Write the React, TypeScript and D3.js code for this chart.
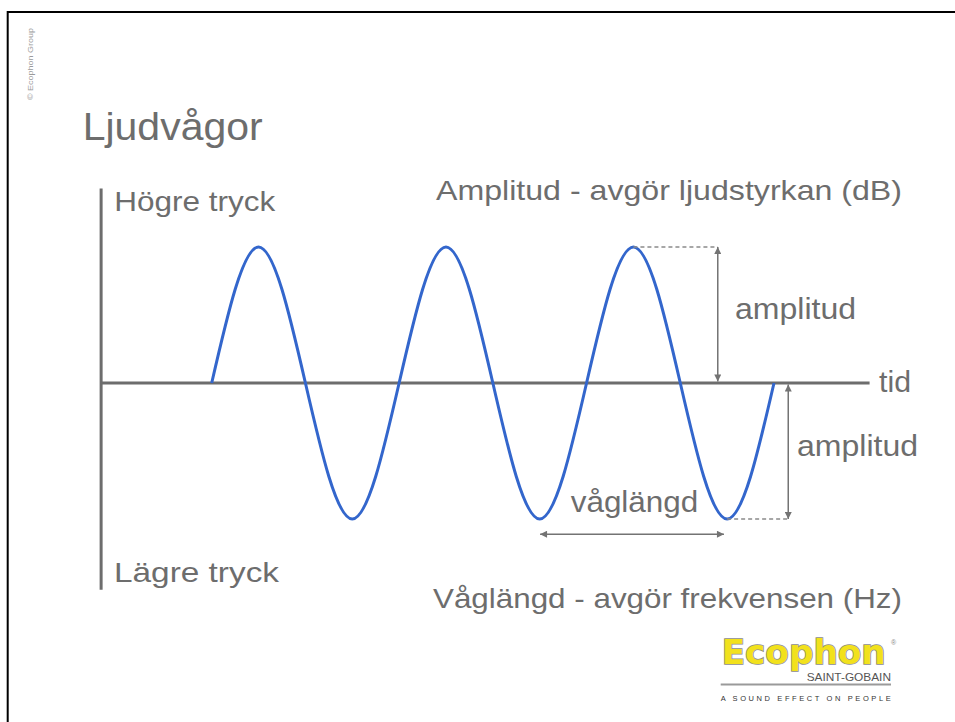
import React, { useEffect, useRef } from "react";
import * as d3 from "d3";

// key points of the wave (time in periods, pressure in amplitudes)
const waveTime = [0, 0.25, 0.5, 0.75, 1, 1.25, 1.5, 1.75, 2, 2.25, 2.5, 2.75, 3];
const wavePressure = [0, 1, 0, -1, 0, 1, 0, -1, 0, 1, 0, -1, 0];

const timeAxis = [-0.59, 3.51];
const pressureAxis = [-1.52, 1.43];

const labels = {
  title: "Ljudvågor",
  high: "Högre tryck",
  low: "Lägre tryck",
  time: "tid",
  ampHeading: "Amplitud - avgör ljudstyrkan (dB)",
  waveHeading: "Våglängd - avgör frekvensen (Hz)",
  amp: "amplitud",
  wave: "våglängd",
};

// annotation anchors, in data units
const ampArrowTimes = [2.7, 3.076];
const wavelengthSpan = [1.752, 2.733];
const wavelengthLevel = -1.112;

const W = 955;
const H = 722;
const grey = "#6d6d6d";
const blue = "#3366cc";

export default function App() {
  const ref = useRef<SVGSVGElement>(null);

  useEffect(() => {
    const svg = d3.select(ref.current);
    svg.selectAll("*").remove();

    const x = d3.scaleLinear().domain([0, 3]).range([211.7, 774]);
    const y = d3.scaleLinear().domain([-1, 1]).range([519, 247]);

    const defs = svg.append("defs");
    defs
      .append("marker")
      .attr("id", "arr")
      .attr("viewBox", "0 0 10 10")
      .attr("refX", 10)
      .attr("refY", 5)
      .attr("markerWidth", 8)
      .attr("markerHeight", 7)
      .attr("markerUnits", "userSpaceOnUse")
      .attr("orient", "auto-start-reverse")
      .append("path")
      .attr("d", "M0,0L10,5L0,10z")
      .attr("fill", "#737373");

    // frame
    svg
      .append("rect")
      .attr("x", 7.7)
      .attr("y", 12)
      .attr("width", 1000)
      .attr("height", 1000)
      .attr("fill", "none")
      .attr("stroke", "#000")
      .attr("stroke-width", 2);

    const font = "'Liberation Sans', Arial, sans-serif";
    const txt = (s: string, tx: number, ty: number, size: number, len: number, fill = grey) =>
      svg
        .append("text")
        .attr("x", tx)
        .attr("y", ty)
        .attr("font-family", font)
        .attr("font-size", size)
        .attr("fill", fill)
        .attr("textLength", len)
        .attr("lengthAdjust", "spacingAndGlyphs")
        .text(s);

    // copyright
    svg
      .append("text")
      .attr("transform", "translate(33,100) rotate(-90)")
      .attr("font-family", font)
      .attr("font-size", 8)
      .attr("fill", "#9a9a9a")
      .attr("textLength", 72)
      .attr("lengthAdjust", "spacingAndGlyphs")
      .text("© Ecophon Group");

    txt(labels.title, 82.7, 140, 38, 180);

    // axes
    svg
      .append("line")
      .attr("x1", x(timeAxis[0]))
      .attr("x2", x(timeAxis[0]))
      .attr("y1", y(pressureAxis[1]))
      .attr("y2", y(pressureAxis[0]))
      .attr("stroke", grey)
      .attr("stroke-width", 3);
    svg
      .append("line")
      .attr("x1", x(timeAxis[0]))
      .attr("x2", x(timeAxis[1]))
      .attr("y1", y(0))
      .attr("y2", y(0))
      .attr("stroke", grey)
      .attr("stroke-width", 3);

    // wave
    const line = d3
      .line<number>()
      .x((_, i) => x(waveTime[i]))
      .y((d) => y(d))
      .curve(d3.curveNatural);
    svg
      .append("path")
      .datum(wavePressure)
      .attr("fill", "none")
      .attr("stroke", blue)
      .attr("stroke-width", 3)
      .attr("d", line);

    // dashed guides
    svg
      .append("line")
      .attr("x1", x(2.25))
      .attr("x2", x(ampArrowTimes[0]))
      .attr("y1", y(1))
      .attr("y2", y(1))
      .attr("stroke", "#8a8a8a")
      .attr("stroke-width", 1.3)
      .attr("stroke-dasharray", "4,3");
    svg
      .append("line")
      .attr("x1", x(2.75))
      .attr("x2", x(ampArrowTimes[1]))
      .attr("y1", y(-1))
      .attr("y2", y(-1))
      .attr("stroke", "#8a8a8a")
      .attr("stroke-width", 1.3)
      .attr("stroke-dasharray", "4,3");

    const arrow = (x1: number, y1: number, x2: number, y2: number) =>
      svg
        .append("line")
        .attr("x1", x1)
        .attr("y1", y1)
        .attr("x2", x2)
        .attr("y2", y2)
        .attr("stroke", "#737373")
        .attr("stroke-width", 1.5)
        .attr("marker-start", "url(#arr)")
        .attr("marker-end", "url(#arr)");

    arrow(x(ampArrowTimes[0]), y(1), x(ampArrowTimes[0]), y(0) - 1.5);
    arrow(x(ampArrowTimes[1]), y(0) + 1.5, x(ampArrowTimes[1]), y(-1));
    arrow(x(wavelengthSpan[0]), y(wavelengthLevel), x(wavelengthSpan[1]), y(wavelengthLevel));

    // labels
    txt(labels.high, 114.3, 210.7, 28, 161);
    txt(labels.low, 114, 582, 28, 165);
    txt(labels.ampHeading, 436, 200, 28, 466);
    txt(labels.waveHeading, 433, 608, 28, 469);
    txt(labels.time, 879, 392, 30, 32);
    txt(labels.amp, 735, 319, 30, 121);
    txt(labels.amp, 797, 456, 30, 121);
    txt(labels.wave, 570.7, 511.7, 30, 127.6);

    // logo
    svg
      .append("text")
      .attr("x", 721.7)
      .attr("y", 664)
      .attr("font-family", "'DejaVu Sans', Arial, sans-serif")
      .attr("font-weight", "bold")
      .attr("font-size", 34)
      .attr("fill", "#f2e11c")
      .attr("stroke", "#8c8c8c")
      .attr("stroke-width", 1.6)
      .attr("paint-order", "stroke")
      .attr("textLength", 164)
      .attr("lengthAdjust", "spacingAndGlyphs")
      .text("Ecophon");
    svg
      .append("text")
      .attr("x", 891)
      .attr("y", 645)
      .attr("font-family", font)
      .attr("font-size", 7)
      .attr("fill", "#888")
      .text("®");
    txt("SAINT-GOBAIN", 806.7, 680.5, 11, 84.3, "#555");
    svg
      .append("line")
      .attr("x1", 720.7)
      .attr("x2", 891)
      .attr("y1", 684.5)
      .attr("y2", 684.5)
      .attr("stroke", "#9a9a9a")
      .attr("stroke-width", 2);
    svg
      .append("text")
      .attr("x", 720.7)
      .attr("y", 701.3)
      .attr("font-family", font)
      .attr("font-size", 7.5)
      .attr("fill", "#333")
      .attr("textLength", 170)
      .attr("lengthAdjust", "spacing")
      .text("A SOUND EFFECT ON PEOPLE");
  }, []);

  return (
    <svg
      ref={ref}
      width={W}
      height={H}
      style={{ position: "absolute", left: 0, top: 0, background: "#fff" }}
    />
  );
}
